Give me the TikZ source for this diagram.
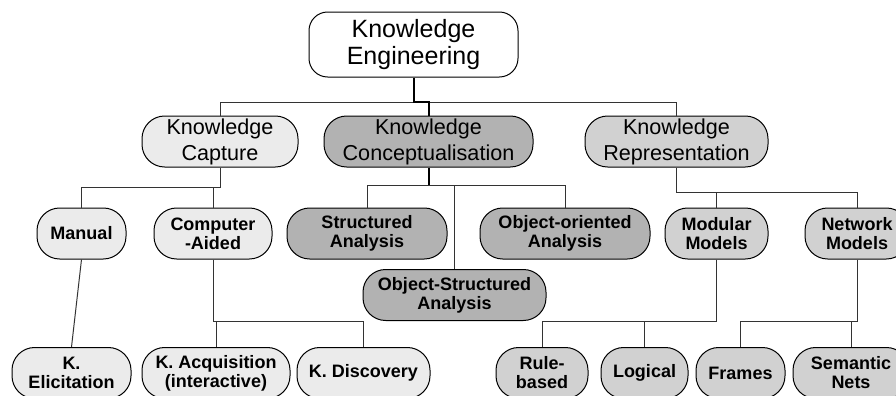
\documentclass[tikz,border=0pt]{standalone}
\usepackage{fontspec}
\setmainfont{Liberation Sans}
\begin{document}
\begin{tikzpicture}[x=0.75pt,y=-0.75pt,
  box/.style={draw=black,line width=0.75pt,rounded corners=17pt,inner sep=0pt,
    align=center,minimum height=38.25pt},
  topbox/.style={box,fill=white,minimum height=48.75pt,rounded corners=14pt,
    font=\fontsize{18.75pt}{20.5pt}\selectfont},
  midbox/.style={box,font=\fontsize{16.2pt}{19.5pt}\selectfont},
  leafbox/.style={box,font=\bfseries\fontsize{13.5pt}{14.3pt}\selectfont},
  capfill/.style={fill=black!8},
  confill/.style={fill=black!30},
  repfill/.style={fill=black!18},
  link/.style={draw=black!80,line width=0.75pt},
  boldlink/.style={draw=black,line width=1.5pt}]
\useasboundingbox (0,0) rectangle (896,396);

% root
\node[topbox,minimum width=156.75pt] (KE) at (413.5,44.5) {Knowledge\\Engineering};

% second level
\node[midbox,capfill,minimum width=117pt]    (KCap) at (220,141.5)   {Knowledge\\Capture};
\node[midbox,confill,minimum width=156.75pt] (KCon) at (428.5,141.5) {Knowledge\\Conceptualisation};
\node[midbox,repfill,minimum width=137.25pt] (KRep) at (676.5,141.5) {Knowledge\\Representation};

% third level
\node[leafbox,capfill,minimum width=66.75pt]  (Man)  at (81.5,233.5)  {Manual};
\node[leafbox,capfill,minimum width=88.5pt]   (CA)   at (213,233.5)   {Computer\\-Aided};
\node[leafbox,confill,minimum width=120pt]    (SA)   at (367,233.5)   {Structured\\Analysis};
\node[leafbox,confill,minimum width=137.25pt] (OSA)  at (454.5,295)   {Object-Structured\\Analysis};
\node[leafbox,confill,minimum width=127.5pt]  (OOA)  at (565,233.5)   {Object-oriented\\Analysis};
\node[leafbox,repfill,minimum width=77.25pt]  (Mod)  at (716.5,233.5) {Modular\\Models};
\node[leafbox,repfill,minimum width=78pt]     (Net)  at (857,233.5)   {Network\\Models};

% leaves
\node[leafbox,capfill,minimum width=89.25pt] (KEl)  at (71.5,373)  {K.\\Elicitation};
\node[leafbox,capfill,minimum width=111pt]   (KAq)  at (216,373)   {K. Acquisition\\(interactive)};
\node[leafbox,capfill,minimum width=99.75pt] (KDi)  at (363.5,373) {K. Discovery};
\node[leafbox,repfill,minimum width=69pt]    (Rule) at (542,373)   {Rule-\\based};
\node[leafbox,repfill,minimum width=65.25pt] (Log)  at (644.5,373) {Logical};
\node[leafbox,repfill,minimum width=66.75pt] (Fra)  at (740.5,373) {Frames};
\node[leafbox,repfill,minimum width=87pt]    (Sem)  at (851,373)   {Semantic\\Nets};

% bus levels
\coordinate (y0) at (0,102);
\coordinate (y1) at (0,187);
\coordinate (y2) at (0,185);
\coordinate (y3) at (0,192);
\coordinate (y4) at (0,321);

% root to second level
\draw[link] (KE.south) -- (KE.south |- y0) -| (KCap.north);
\draw[link] (KE.south) -- (KE.south |- y0) -| (KRep.north);
\draw[boldlink] (KE.south) -- (KE.south |- y0) -| (KCon.north);

% capture branch
\draw[link] (KCap.south) -- (KCap.south |- y1) -| (Man.north);
\draw[link] (KCap.south) -- (KCap.south |- y1) -| (CA.north);
\draw[link] (Man.south) -- (KEl.north);
\draw[link] (CA.south) -- (CA.south |- y4) -| (KAq.north);
\draw[link] (CA.south) -- (CA.south |- y4) -| (KDi.north);

% conceptualisation branch
\draw[boldlink] (KCon.south) -- (KCon.south |- y2);
\draw[link] (KCon.south |- y2) -| (SA.north);
\draw[link] (KCon.south |- y2) -| (OOA.north);
\draw[link] (KCon.south |- y2) -| (OSA.north);

% representation branch
\draw[link] (KRep.south) -- (KRep.south |- y3) -| (Mod.north);
\draw[link] (KRep.south) -- (KRep.south |- y3) -| (Net.north);
\draw[link] (Mod.south) -- (Mod.south |- y4) -| (Rule.north);
\draw[link] (Mod.south) -- (Mod.south |- y4) -| (Log.north);
\draw[link] (Net.south) -- (Net.south |- y4) -| (Fra.north);
\draw[link] (Net.south) -- (Net.south |- y4) -| (Sem.north);
\end{tikzpicture}
\end{document}
